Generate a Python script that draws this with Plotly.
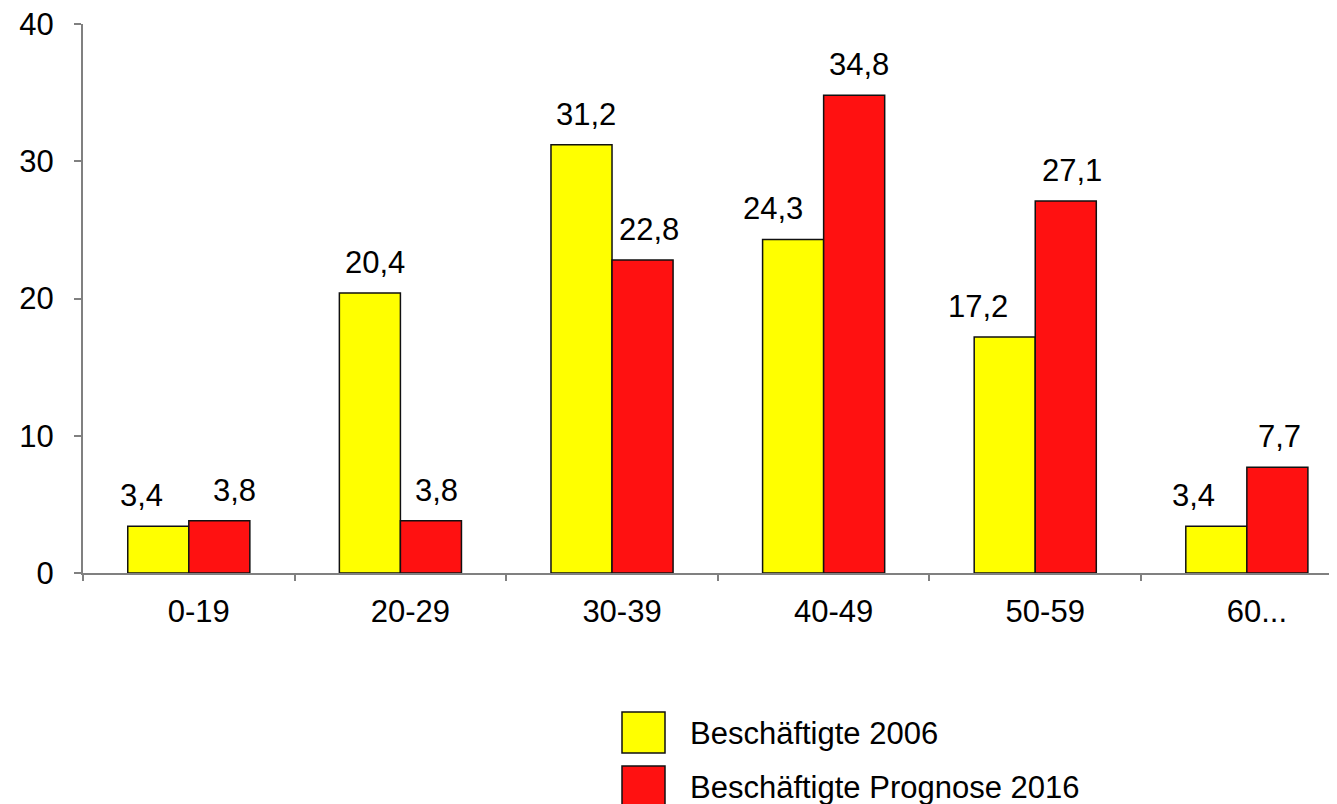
import plotly.graph_objects as go

categories = ["0-19", "20-29", "30-39", "40-49", "50-59", "60..."]
series_names = ["Beschäftigte 2006", "Beschäftigte Prognose 2016"]
values_2006 = [3.4, 20.4, 31.2, 24.3, 17.2, 3.4]
values_2016 = [3.8, 3.8, 22.8, 34.8, 27.1, 7.7]
value_labels_2006 = ["3,4", "20,4", "31,2", "24,3", "17,2", "3,4"]
value_labels_2016 = ["3,8", "3,8", "22,8", "34,8", "27,1", "7,7"]
y_ticks = [0, 10, 20, 30, 40]

# layout / style (page body has an 8px default margin)
PAGE_OFF = 8
W, H = 1337 - PAGE_OFF, 804 - PAGE_OFF
ML, MR, MT, MB = 83 - PAGE_OFF, 0, 24 - PAGE_OFF, 231
FONT = "Liberation Sans, Arial, sans-serif"
FS = 31
YELLOW = "#FFFF00"
RED = "#FF1111"
AXIS = "#808080"
BARGAP = 0.423
X_RANGE = [-0.5, 5.426]
plot_w = W - ML - MR
cat_px = plot_w / (X_RANGE[1] - X_RANGE[0])
half_bar = (1 - BARGAP) / 2 * cat_px / 2
label_dx_2006 = [-16.5, 5, 5, -20, -27, -23]
label_dx_2016 = [15, 6, 6, 5, 6.5, 2]

fig = go.Figure()
fig.add_trace(go.Bar(x=categories, y=values_2006, name=series_names[0],
                     marker=dict(color=YELLOW, line=dict(color="#111", width=1.5))))
fig.add_trace(go.Bar(x=categories, y=values_2016, name=series_names[1],
                     marker=dict(color=RED, line=dict(color="#111", width=1.5))))

ann = []
for i, c in enumerate(categories):
    ann.append(dict(x=c, y=values_2006[i], xref="x", yref="y", text=value_labels_2006[i],
                    showarrow=False, yanchor="bottom", xanchor="center",
                    xshift=-half_bar + label_dx_2006[i], yshift=11,
                    font=dict(family=FONT, size=FS, color="#000")))
    ann.append(dict(x=c, y=values_2016[i], xref="x", yref="y", text=value_labels_2016[i],
                    showarrow=False, yanchor="bottom", xanchor="center",
                    xshift=half_bar + label_dx_2016[i], yshift=11,
                    font=dict(family=FONT, size=FS, color="#000")))

# custom legend (large swatches), positions given in page pixels
plot_h = H - MT - MB
def px_x(p):
    return (p - PAGE_OFF - ML) / plot_w
def px_y(p):
    return (H - MB - (p - PAGE_OFF)) / plot_h

legend_tops = [712, 766]
shapes = []
colors = [YELLOW, RED]
for k, name in enumerate(series_names):
    top = legend_tops[k]
    shapes.append(dict(type="rect", xref="paper", yref="paper",
                       x0=px_x(622), x1=px_x(665), y0=px_y(top + 41), y1=px_y(top),
                       fillcolor=colors[k], line=dict(color="#111", width=1.5)))
    ann.append(dict(x=px_x(688), y=px_y(top + 21), xref="paper", yref="paper",
                    text=name, showarrow=False, xanchor="left", yanchor="middle",
                    font=dict(family=FONT, size=FS, color="#000")))

fig.update_layout(
    width=W, height=H,
    margin=dict(l=ML, r=MR, t=MT, b=MB, autoexpand=False),
    paper_bgcolor="white", plot_bgcolor="white",
    barmode="group", bargap=BARGAP, bargroupgap=0,
    showlegend=False,
    annotations=ann, shapes=shapes,
    font=dict(family=FONT, size=FS, color="#000"),
)
fig.update_xaxes(range=X_RANGE, showline=True, linecolor=AXIS, linewidth=2,
                 ticks="outside", tickson="boundaries", ticklen=6, tickcolor=AXIS,
                 tickwidth=1.5, showgrid=False, zeroline=False,
                 ticklabelshift=10, ticklabelstandoff=10, ticklabeloverflow="allow",
                 tickfont=dict(family=FONT, size=FS, color="#000"))
fig.update_yaxes(range=[0, 40], tickvals=y_ticks, showline=True, linecolor=AXIS,
                 linewidth=2, ticks="outside", ticklen=7, tickcolor=AXIS, tickwidth=1.5,
                 showgrid=False, zeroline=False, ticklabelstandoff=14,
                 ticklabeloverflow="allow",
                 tickfont=dict(family=FONT, size=FS, color="#000"))

fig.write_html("out.html")
